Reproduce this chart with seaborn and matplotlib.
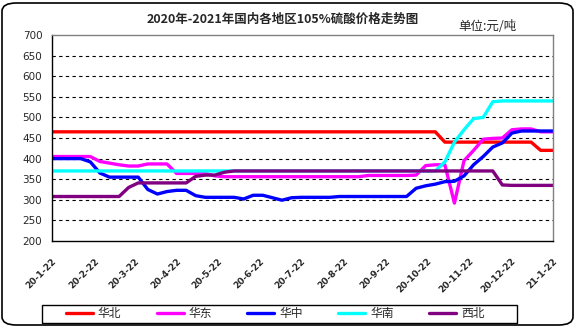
import numpy as np
import pandas as pd
import matplotlib
matplotlib.use("Agg")
import matplotlib.pyplot as plt
import seaborn as sns
from matplotlib.patches import FancyBboxPatch, Rectangle
from matplotlib.lines import Line2D

# ---------------- data ----------------
week_dates = list(pd.date_range("2020-01-22", periods=53, freq="7D")) + [pd.Timestamp("2021-01-22")]

huabei = [465]*41 + [440]*10 + [420]*3
huadong = [405, 405, 405, 405, 405, 393, 389, 385, 382, 382, 387, 387, 387, 364, 364, 364, 364, 358] \
    + [356]*15 + [359]*5 \
    + [360, 383, 385, 385, 292, 395, 420, 447, 449, 450, 470, 472, 472, 465, 465, 465]
huazhong = [400, 400, 400, 400, 392, 365, 355, 355, 355, 355, 325, 314, 320, 323, 323, 310,
            306, 306, 306, 306, 302, 311, 311, 305, 299, 305, 306, 306, 306, 306, 308] \
    + [308]*7 \
    + [328, 334, 338, 344, 345, 358, 385, 405, 428, 438, 462, 467, 467, 467, 467, 467]
huanan = [370]*41 + [392, 440, 470, 497, 500, 538] + [540]*7
xibei = [308]*8 + [330] + [341]*6 + [357, 360, 360, 367] + [370]*28 + [336] + [335]*6

series_names = ["华北", "华东", "华中", "华南", "西北"]
series_values = [huabei, huadong, huazhong, huanan, xibei]
series_colors = ["#FF0000", "#FF00FF", "#0000FF", "#00FFFF", "#800080"]

tick_dates = ["2020-01-22", "2020-02-22", "2020-03-22", "2020-04-22", "2020-05-22", "2020-06-22",
              "2020-07-22", "2020-08-22", "2020-09-22", "2020-10-22", "2020-11-22", "2020-12-22",
              "2021-01-22"]
tick_labels = ["20-1-22", "20-2-22", "20-3-22", "20-4-22", "20-5-22", "20-6-22", "20-7-22",
               "20-8-22", "20-9-22", "20-10-22", "20-11-22", "20-12-22", "21-1-22"]
y_ticks = [200, 250, 300, 350, 400, 450, 500, 550, 600, 650, 700]

title = "2020年-2021年国内各地区105%硫酸价格走势图"
unit = "单位:元/吨"

# ---------------- style ----------------
sns.set_style("white")
plt.rcParams["font.family"] = ["Noto Sans CJK SC", "DejaVu Sans"]

W, H = 576, 327
fig = plt.figure(figsize=(W/100, H/100), dpi=100)
L, R, T, B = 52, 553, 35, 241
ax = fig.add_axes([L/W, 1-B/H, (R-L)/W, (B-T)/H])

df = pd.DataFrame({"date": week_dates})
for name, vals, col in zip(series_names, series_values, series_colors):
    df[name] = vals
    sns.lineplot(data=df, x="date", y=name, color=col, lw=2.4, ax=ax, label=name, legend=False)

ax.set_xlim(pd.Timestamp(tick_dates[0]), pd.Timestamp(tick_dates[-1]))
ax.set_ylim(200, 700)
ax.set_yticks(y_ticks)
ax.set_yticklabels([str(v) for v in y_ticks], fontsize=7.5, family="DejaVu Sans")
ax.set_xticks(pd.to_datetime(tick_dates))
ax.set_xticklabels(tick_labels, rotation=45, ha="right", rotation_mode="anchor",
                   fontsize=6.5, fontweight="bold", family="DejaVu Sans")
ax.set_xlabel("")
ax.set_ylabel("")
ax.tick_params(axis="both", direction="out", length=4, width=0.8, color="black", pad=3)
ax.tick_params(axis="x", pad=7)
for g in y_ticks[1:-1]:
    ax.axhline(g, color="black", lw=0.8, ls=(0, (3, 3)), zorder=0)
for s in ["left", "bottom"]:
    ax.spines[s].set_color("black")
    ax.spines[s].set_linewidth(1.0)
for s in ["top", "right"]:
    ax.spines[s].set_color("#808080")
    ax.spines[s].set_linewidth(1.0)

fig.text(283/W, 1-19/H, title, ha="center", va="center", fontsize=9, fontweight="bold")
fig.text(458/W, 1-27/H, unit, ha="left", va="center", fontsize=9)

# legend
fig.patches.append(Rectangle((42/W, 1-323/H), (517-42)/W, 18/H, transform=fig.transFigure,
                             fill=False, ec="black", lw=1.0))
handles = [Line2D([], [], color=c, lw=2.4) for c in series_colors]
fig.legend(handles, series_names, loc="center", bbox_to_anchor=(275/W, 1-314/H), ncol=5,
           frameon=False, fontsize=8.5, handlelength=2.3, handletextpad=0.4, columnspacing=3.0,
           borderpad=0.1)

# outer rounded frame
fig.patches.append(FancyBboxPatch((2/W, 2/H), (W-5)/W, (H-5)/H, boxstyle="round,pad=0,rounding_size=0.025",
                                  transform=fig.transFigure, fill=False, ec="black", lw=1.2))

fig.savefig("out.png", dpi=100)
